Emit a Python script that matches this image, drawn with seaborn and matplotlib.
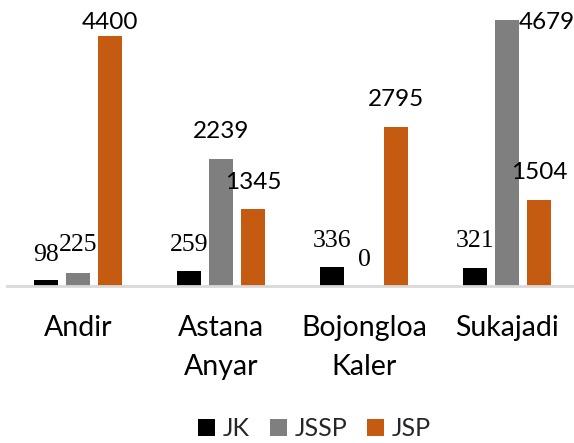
import matplotlib
matplotlib.use("Agg")
import matplotlib.pyplot as plt
import seaborn as sns
import pandas as pd

categories = ["Andir", "Astana\nAnyar", "Bojongloa\nKaler", "Sukajadi"]
series = ["JK", "JSSP", "JSP"]
jk = [98, 259, 336, 321]
jssp = [225, 2239, 0, 4679]
jsp = [4400, 1345, 2795, 1504]

colors = {"JK": "#000000", "JSSP": "#7F7F7F", "JSP": "#C55A11"}

rows = []
for name, vals in zip(series, [jk, jssp, jsp]):
    for c, v in zip(categories, vals):
        rows.append({"cat": c, "series": name, "value": v})
df = pd.DataFrame(rows)

sns.set_theme(style="white")
plt.rcParams["font.family"] = ["Lato", "DejaVu Sans"]

W, H = 574, 443
fig = plt.figure(figsize=(W / 100, H / 100), dpi=100)
ax = fig.add_axes([6.5 / W, (H - 286) / H, 572 / W, 286 / H])

sns.barplot(data=df, x="cat", y="value", hue="series", hue_order=series,
            order=categories, palette=colors, width=0.671, gap=0.22,
            linewidth=0, saturation=1, ax=ax, legend=True)

ax.set_ylim(0, 5026)
ax.set_xlim(-0.5, 3.5)
ax.set_xlabel("")
ax.set_ylabel("")
ax.set_yticks([])
for s in ["top", "left", "right"]:
    ax.spines[s].set_visible(False)
ax.spines["bottom"].set_color("#D9D9D9")
ax.spines["bottom"].set_linewidth(2)
ax.tick_params(axis="x", length=0, pad=21)
for lbl in ax.get_xticklabels():
    lbl.set_fontsize(20.5)
    lbl.set_linespacing(1.6)
    lbl.set_color("#000000")

# label styles (offsets in pixels, font family)
label_style = {
    ("JK", 0): (0, 25, "serif"), ("JK", 1): (0, 26, "serif"),
    ("JK", 2): (0, 26, "serif"), ("JK", 3): (0, 27, "serif"),
    ("JSSP", 0): (0, 28, "serif"), ("JSSP", 1): (0, 27, "sans"),
    ("JSSP", 2): (0, 26, "serif"), ("JSSP", 3): (40, -3, "sans"),
    ("JSP", 0): (0, 13, "sans"), ("JSP", 1): (0, 27, "sans"),
    ("JSP", 2): (0, 27, "sans"), ("JSP", 3): (0, 28, "sans"),
}
for name, cont, vals in zip(series, ax.containers, [jk, jssp, jsp]):
    for i, (bar, v) in enumerate(zip(cont, vals)):
        dx, dy, fam = label_style[(name, i)]
        x = bar.get_x() + bar.get_width() / 2
        if fam == "serif":
            fkw = dict(family=["Liberation Serif", "DejaVu Serif"], fontsize=18.5)
        else:
            fkw = dict(family=["Lato", "DejaVu Sans"], fontsize=17.5)
        ax.annotate(str(v), (x, bar.get_height()), xytext=(dx, dy),
                    textcoords="offset pixels", ha="center", va="center",
                    color="#000000", annotation_clip=False, **fkw)

leg = ax.get_legend()
handles = leg.legend_handles
leg.remove()
fig.legend(handles, series, loc="center", bbox_to_anchor=(314.5 / W, 1 - 429 / H),
           ncol=3, frameon=False, fontsize=18, handlelength=0.68,
           handleheight=0.68, handletextpad=0.3, columnspacing=0.8)

fig.savefig("out.png", dpi=100)
